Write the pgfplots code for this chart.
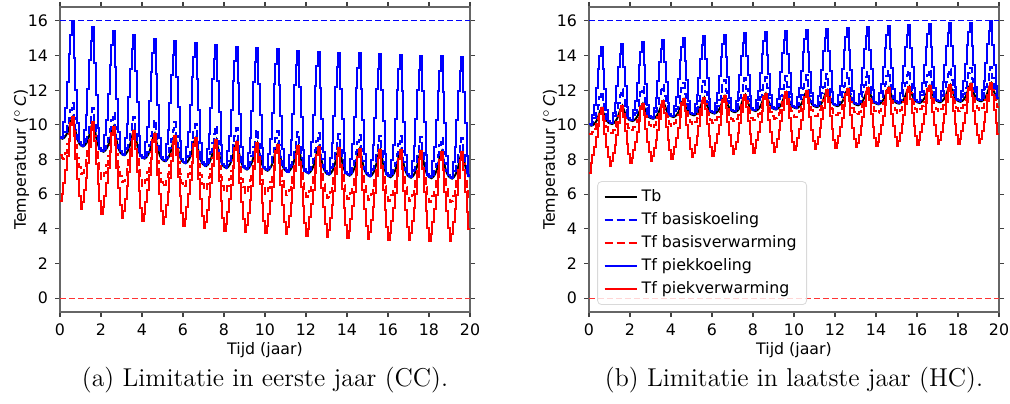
\documentclass[border=0pt]{standalone}
\usepackage{pgfplots}
\pgfplotsset{compat=1.18}
\usepackage{pgfplotstable}
\usepackage{fontspec}
\newfontfamily\dejavu{DejaVu Sans}

% ---------------- LEFT PANEL (CC) ----------------
\pgfplotstableread[row sep=\\,header=false]{
9.24\\9.20\\9.26\\9.39\\9.58\\9.89\\10.26\\10.45\\9.94\\9.43\\9.09\\8.89\\
8.79\\8.75\\8.82\\8.96\\9.17\\9.52\\9.94\\10.15\\9.64\\9.13\\8.79\\8.59\\
8.49\\8.45\\8.52\\8.67\\8.89\\9.25\\9.68\\9.90\\9.41\\8.91\\8.58\\8.38\\
8.29\\8.25\\8.32\\8.46\\8.68\\9.03\\9.46\\9.67\\9.18\\8.70\\8.37\\8.18\\
8.09\\8.05\\8.12\\8.26\\8.48\\8.84\\9.27\\9.48\\9.01\\8.53\\8.22\\8.03\\
7.94\\7.90\\7.97\\8.12\\8.34\\8.70\\9.13\\9.35\\8.88\\8.41\\8.09\\7.91\\
7.82\\7.78\\7.85\\8.00\\8.22\\8.58\\9.01\\9.23\\8.75\\8.26\\7.94\\7.75\\
7.67\\7.62\\7.70\\7.85\\8.07\\8.45\\8.90\\9.13\\8.64\\8.15\\7.83\\7.63\\
7.55\\7.50\\7.58\\7.73\\7.95\\8.33\\8.78\\9.00\\8.53\\8.05\\7.74\\7.55\\
7.47\\7.42\\7.50\\7.65\\7.87\\8.25\\8.70\\8.93\\8.46\\7.98\\7.67\\7.48\\
7.40\\7.35\\7.43\\7.58\\7.80\\8.18\\8.63\\8.85\\8.38\\7.91\\7.59\\7.41\\
7.33\\7.28\\7.36\\7.51\\7.73\\8.11\\8.56\\8.78\\8.31\\7.83\\7.52\\7.33\\
7.25\\7.20\\7.28\\7.43\\7.66\\8.04\\8.49\\8.72\\8.24\\7.76\\7.44\\7.25\\
7.17\\7.12\\7.20\\7.35\\7.59\\7.97\\8.44\\8.67\\8.19\\7.71\\7.39\\7.20\\
7.12\\7.07\\7.15\\7.30\\7.54\\7.92\\8.39\\8.62\\8.14\\7.66\\7.34\\7.15\\
7.07\\7.02\\7.10\\7.25\\7.49\\7.87\\8.34\\8.57\\8.09\\7.62\\7.30\\7.11\\
7.03\\6.98\\7.06\\7.21\\7.45\\7.83\\8.30\\8.53\\8.06\\7.58\\7.27\\7.08\\
7.00\\6.95\\7.03\\7.18\\7.42\\7.80\\8.27\\8.50\\8.03\\7.55\\7.24\\7.05\\
6.97\\6.92\\7.00\\7.15\\7.38\\7.77\\8.23\\8.46\\7.99\\7.52\\7.21\\7.03\\
6.95\\6.90\\6.98\\7.13\\7.36\\7.74\\8.20\\8.43\\7.97\\7.50\\7.19\\7.00\\
}\LTb
\pgfplotstableread[row sep=\\,header=false]{
9.26\\9.22\\9.36\\9.59\\9.93\\10.39\\10.86\\11.25\\10.39\\9.68\\9.19\\8.92\\
8.81\\8.77\\8.92\\9.16\\9.52\\10.02\\10.54\\10.95\\10.09\\9.38\\8.89\\8.62\\
8.51\\8.47\\8.62\\8.87\\9.24\\9.75\\10.28\\10.70\\9.86\\9.16\\8.68\\8.41\\
8.31\\8.27\\8.42\\8.66\\9.03\\9.53\\10.06\\10.47\\9.63\\8.95\\8.47\\8.21\\
8.11\\8.07\\8.22\\8.46\\8.83\\9.34\\9.87\\10.28\\9.46\\8.78\\8.32\\8.06\\
7.96\\7.92\\8.07\\8.32\\8.69\\9.20\\9.73\\10.15\\9.33\\8.66\\8.19\\7.94\\
7.84\\7.80\\7.95\\8.20\\8.57\\9.08\\9.61\\10.03\\9.20\\8.51\\8.04\\7.78\\
7.69\\7.64\\7.80\\8.05\\8.42\\8.95\\9.50\\9.93\\9.09\\8.40\\7.93\\7.66\\
7.57\\7.52\\7.68\\7.93\\8.30\\8.83\\9.38\\9.80\\8.98\\8.30\\7.84\\7.58\\
7.49\\7.44\\7.60\\7.85\\8.22\\8.75\\9.30\\9.73\\8.91\\8.23\\7.77\\7.51\\
7.42\\7.37\\7.53\\7.78\\8.15\\8.68\\9.23\\9.65\\8.83\\8.16\\7.69\\7.44\\
7.35\\7.30\\7.46\\7.71\\8.08\\8.61\\9.16\\9.58\\8.76\\8.08\\7.62\\7.36\\
7.27\\7.22\\7.38\\7.63\\8.01\\8.54\\9.09\\9.52\\8.69\\8.01\\7.54\\7.28\\
7.19\\7.14\\7.30\\7.55\\7.94\\8.47\\9.04\\9.47\\8.64\\7.96\\7.49\\7.23\\
7.14\\7.09\\7.25\\7.50\\7.89\\8.42\\8.99\\9.42\\8.59\\7.91\\7.44\\7.18\\
7.09\\7.04\\7.20\\7.45\\7.84\\8.37\\8.94\\9.37\\8.54\\7.87\\7.40\\7.14\\
7.05\\7.00\\7.16\\7.41\\7.80\\8.33\\8.90\\9.33\\8.51\\7.83\\7.37\\7.11\\
7.02\\6.97\\7.13\\7.38\\7.77\\8.30\\8.87\\9.30\\8.48\\7.80\\7.34\\7.08\\
6.99\\6.94\\7.10\\7.35\\7.73\\8.27\\8.83\\9.26\\8.44\\7.77\\7.31\\7.06\\
6.97\\6.92\\7.08\\7.33\\7.71\\8.24\\8.80\\9.23\\8.42\\7.75\\7.29\\7.03\\
7.03\\
}\LBk
\pgfplotstableread[row sep=\\,header=false]{
8.24\\8.10\\8.05\\8.39\\8.88\\9.49\\10.11\\10.40\\9.64\\8.83\\8.09\\7.54\\
7.19\\7.25\\7.52\\7.96\\8.47\\9.12\\9.79\\10.10\\9.34\\8.53\\7.79\\7.24\\
6.89\\6.95\\7.22\\7.67\\8.19\\8.85\\9.53\\9.85\\9.11\\8.31\\7.58\\7.03\\
6.69\\6.75\\7.02\\7.46\\7.98\\8.63\\9.31\\9.62\\8.88\\8.10\\7.37\\6.83\\
6.49\\6.55\\6.82\\7.26\\7.78\\8.44\\9.12\\9.43\\8.71\\7.93\\7.22\\6.68\\
6.44\\6.50\\6.77\\7.19\\7.69\\8.32\\9.00\\9.30\\8.60\\7.86\\7.16\\6.66\\
6.42\\6.48\\6.75\\7.15\\7.62\\8.23\\8.89\\9.18\\8.50\\7.76\\7.09\\6.60\\
6.27\\6.32\\6.60\\7.00\\7.47\\8.10\\8.78\\9.08\\8.39\\7.65\\6.98\\6.48\\
6.15\\6.20\\6.48\\6.88\\7.35\\7.98\\8.66\\8.95\\8.28\\7.55\\6.89\\6.40\\
6.07\\6.12\\6.40\\6.80\\7.27\\7.90\\8.58\\8.88\\8.21\\7.48\\6.82\\6.33\\
6.00\\6.05\\6.33\\6.73\\7.20\\7.83\\8.51\\8.80\\8.13\\7.41\\6.74\\6.26\\
5.93\\5.98\\6.26\\6.66\\7.13\\7.76\\8.44\\8.73\\8.06\\7.33\\6.67\\6.18\\
5.85\\5.90\\6.18\\6.58\\7.06\\7.69\\8.37\\8.67\\7.99\\7.26\\6.59\\6.10\\
5.77\\5.82\\6.10\\6.50\\6.99\\7.62\\8.32\\8.62\\7.94\\7.21\\6.54\\6.05\\
5.72\\5.77\\6.05\\6.45\\6.94\\7.57\\8.27\\8.57\\7.89\\7.16\\6.49\\6.00\\
5.67\\5.72\\6.00\\6.40\\6.89\\7.52\\8.22\\8.52\\7.84\\7.12\\6.45\\5.96\\
5.63\\5.68\\5.96\\6.36\\6.85\\7.48\\8.18\\8.48\\7.81\\7.08\\6.42\\5.93\\
5.60\\5.65\\5.93\\6.33\\6.82\\7.45\\8.15\\8.45\\7.78\\7.05\\6.39\\5.90\\
5.57\\5.62\\5.90\\6.30\\6.78\\7.42\\8.11\\8.41\\7.74\\7.02\\6.36\\5.88\\
5.55\\5.60\\5.88\\6.28\\6.76\\7.39\\8.08\\8.38\\7.72\\7.00\\6.34\\5.85\\
5.85\\
}\LBv
\pgfplotstableread[row sep=\\,header=false]{
9.29\\9.25\\10.16\\10.99\\12.48\\14.09\\15.16\\15.95\\13.84\\12.03\\10.09\\8.99\\
8.84\\8.80\\9.72\\10.56\\12.07\\13.72\\14.84\\15.65\\13.54\\11.73\\9.79\\8.69\\
8.54\\8.50\\9.42\\10.27\\11.79\\13.45\\14.58\\15.40\\13.31\\11.51\\9.58\\8.48\\
8.34\\8.30\\9.22\\10.06\\11.58\\13.23\\14.36\\15.17\\13.08\\11.30\\9.37\\8.28\\
8.14\\8.10\\9.02\\9.86\\11.38\\13.04\\14.17\\14.98\\12.91\\11.13\\9.22\\8.13\\
7.99\\7.95\\8.87\\9.72\\11.24\\12.90\\14.03\\14.85\\12.78\\11.01\\9.09\\8.01\\
7.87\\7.83\\8.75\\9.60\\11.12\\12.78\\13.91\\14.73\\12.65\\10.86\\8.94\\7.85\\
7.72\\7.67\\8.60\\9.45\\10.97\\12.65\\13.80\\14.63\\12.54\\10.75\\8.83\\7.73\\
7.60\\7.55\\8.48\\9.33\\10.85\\12.53\\13.68\\14.50\\12.43\\10.65\\8.74\\7.65\\
7.52\\7.47\\8.40\\9.25\\10.77\\12.45\\13.60\\14.43\\12.36\\10.58\\8.67\\7.58\\
7.45\\7.40\\8.33\\9.18\\10.70\\12.38\\13.53\\14.35\\12.28\\10.51\\8.59\\7.51\\
7.38\\7.33\\8.26\\9.11\\10.63\\12.31\\13.46\\14.28\\12.21\\10.43\\8.52\\7.43\\
7.30\\7.25\\8.18\\9.03\\10.56\\12.24\\13.39\\14.22\\12.14\\10.36\\8.44\\7.35\\
7.22\\7.17\\8.10\\8.95\\10.49\\12.17\\13.34\\14.17\\12.09\\10.31\\8.39\\7.30\\
7.17\\7.12\\8.05\\8.90\\10.44\\12.12\\13.29\\14.12\\12.04\\10.26\\8.34\\7.25\\
7.12\\7.07\\8.00\\8.85\\10.39\\12.07\\13.24\\14.07\\11.99\\10.22\\8.30\\7.21\\
7.08\\7.03\\7.96\\8.81\\10.35\\12.03\\13.20\\14.03\\11.96\\10.18\\8.27\\7.18\\
7.05\\7.00\\7.93\\8.78\\10.32\\12.00\\13.17\\14.00\\11.93\\10.15\\8.24\\7.15\\
7.02\\6.97\\7.90\\8.75\\10.28\\11.97\\13.13\\13.96\\11.89\\10.12\\8.21\\7.13\\
7.00\\6.95\\7.88\\8.73\\10.26\\11.94\\13.10\\13.93\\11.87\\10.10\\8.19\\7.10\\
7.10\\
}\LPk
\pgfplotstableread[row sep=\\,header=false]{
5.59\\6.00\\6.66\\7.39\\8.18\\9.09\\10.01\\10.45\\9.34\\8.03\\6.89\\5.89\\
5.14\\5.55\\6.22\\6.96\\7.77\\8.72\\9.69\\10.15\\9.04\\7.73\\6.59\\5.59\\
4.84\\5.25\\5.92\\6.67\\7.49\\8.45\\9.43\\9.90\\8.81\\7.51\\6.38\\5.38\\
4.64\\5.05\\5.72\\6.46\\7.28\\8.23\\9.21\\9.67\\8.58\\7.30\\6.17\\5.18\\
4.44\\4.85\\5.52\\6.26\\7.08\\8.04\\9.02\\9.48\\8.41\\7.13\\6.02\\5.03\\
4.29\\4.70\\5.37\\6.12\\6.94\\7.90\\8.88\\9.35\\8.28\\7.01\\5.89\\4.91\\
4.17\\4.58\\5.25\\6.00\\6.82\\7.78\\8.76\\9.23\\8.15\\6.86\\5.74\\4.75\\
4.02\\4.42\\5.10\\5.85\\6.67\\7.65\\8.65\\9.13\\8.04\\6.75\\5.63\\4.63\\
3.90\\4.30\\4.98\\5.73\\6.55\\7.53\\8.53\\9.00\\7.93\\6.65\\5.54\\4.55\\
3.82\\4.22\\4.90\\5.65\\6.47\\7.45\\8.45\\8.93\\7.86\\6.58\\5.47\\4.48\\
3.75\\4.15\\4.83\\5.58\\6.40\\7.38\\8.38\\8.85\\7.78\\6.51\\5.39\\4.41\\
3.68\\4.08\\4.76\\5.51\\6.33\\7.31\\8.31\\8.78\\7.71\\6.43\\5.32\\4.33\\
3.60\\4.00\\4.68\\5.43\\6.26\\7.24\\8.24\\8.72\\7.64\\6.36\\5.24\\4.25\\
3.52\\3.92\\4.60\\5.35\\6.19\\7.17\\8.19\\8.67\\7.59\\6.31\\5.19\\4.20\\
3.47\\3.87\\4.55\\5.30\\6.14\\7.12\\8.14\\8.62\\7.54\\6.26\\5.14\\4.15\\
3.42\\3.82\\4.50\\5.25\\6.09\\7.07\\8.09\\8.57\\7.49\\6.22\\5.10\\4.11\\
3.38\\3.78\\4.46\\5.21\\6.05\\7.03\\8.05\\8.53\\7.46\\6.18\\5.07\\4.08\\
3.35\\3.75\\4.43\\5.18\\6.02\\7.00\\8.02\\8.50\\7.43\\6.15\\5.04\\4.05\\
3.32\\3.72\\4.40\\5.15\\5.98\\6.97\\7.98\\8.46\\7.39\\6.12\\5.01\\4.03\\
3.30\\3.70\\4.38\\5.13\\5.96\\6.94\\7.95\\8.43\\7.37\\6.10\\4.99\\4.00\\
4.00\\
}\LPv

% ---------------- RIGHT PANEL (HC) ----------------
\pgfplotstableread[row sep=\\,header=false]{
9.98\\9.95\\10.00\\10.10\\10.25\\10.50\\10.80\\10.95\\10.68\\10.41\\10.23\\10.12\\
10.08\\10.05\\10.10\\10.21\\10.37\\10.63\\10.94\\11.10\\10.84\\10.57\\10.40\\10.29\\
10.25\\10.22\\10.27\\10.37\\10.52\\10.77\\11.07\\11.22\\10.96\\10.70\\10.52\\10.42\\
10.38\\10.35\\10.40\\10.50\\10.65\\10.90\\11.20\\11.35\\11.08\\10.81\\10.63\\10.52\\
10.48\\10.45\\10.50\\10.60\\10.76\\11.01\\11.32\\11.47\\11.19\\10.92\\10.73\\10.62\\
10.58\\10.55\\10.60\\10.70\\10.86\\11.11\\11.42\\11.57\\11.29\\11.02\\10.83\\10.72\\
10.68\\10.65\\10.70\\10.80\\10.95\\11.20\\11.50\\11.65\\11.37\\11.10\\10.91\\10.80\\
10.76\\10.73\\10.78\\10.88\\11.03\\11.28\\11.58\\11.73\\11.45\\11.17\\10.99\\10.87\\
10.83\\10.80\\10.85\\10.95\\11.10\\11.35\\11.65\\11.80\\11.52\\11.25\\11.06\\10.95\\
10.91\\10.88\\10.93\\11.03\\11.18\\11.42\\11.72\\11.87\\11.59\\11.32\\11.13\\11.02\\
10.98\\10.95\\11.00\\11.10\\11.24\\11.49\\11.78\\11.93\\11.66\\11.38\\11.20\\11.09\\
11.05\\11.02\\11.07\\11.17\\11.31\\11.55\\11.84\\11.99\\11.72\\11.44\\11.26\\11.15\\
11.11\\11.08\\11.13\\11.23\\11.37\\11.61\\11.90\\12.05\\11.77\\11.50\\11.31\\11.20\\
11.16\\11.13\\11.18\\11.28\\11.42\\11.66\\11.95\\12.10\\11.82\\11.55\\11.36\\11.25\\
11.21\\11.18\\11.23\\11.33\\11.47\\11.71\\12.00\\12.15\\11.87\\11.59\\11.41\\11.29\\
11.25\\11.22\\11.27\\11.37\\11.51\\11.76\\12.05\\12.20\\11.92\\11.64\\11.45\\11.34\\
11.29\\11.26\\11.31\\11.41\\11.56\\11.80\\12.10\\12.25\\11.97\\11.68\\11.49\\11.38\\
11.33\\11.30\\11.35\\11.45\\11.60\\11.85\\12.15\\12.30\\12.01\\11.72\\11.52\\11.41\\
11.36\\11.33\\11.38\\11.48\\11.64\\11.89\\12.20\\12.35\\12.05\\11.76\\11.56\\11.44\\
11.39\\11.36\\11.41\\11.52\\11.67\\11.93\\12.24\\12.40\\12.10\\11.80\\11.60\\11.48\\
}\RTb
\pgfplotstableread[row sep=\\,header=false]{
10.03\\10.00\\10.15\\10.40\\10.75\\11.15\\11.60\\11.90\\11.28\\10.71\\10.35\\10.17\\
10.13\\10.10\\10.25\\10.51\\10.87\\11.28\\11.74\\12.05\\11.44\\10.87\\10.52\\10.34\\
10.30\\10.27\\10.42\\10.67\\11.02\\11.42\\11.87\\12.17\\11.56\\11.00\\10.64\\10.47\\
10.43\\10.40\\10.55\\10.80\\11.15\\11.55\\12.00\\12.30\\11.68\\11.11\\10.75\\10.57\\
10.53\\10.50\\10.65\\10.90\\11.26\\11.66\\12.12\\12.42\\11.79\\11.22\\10.85\\10.67\\
10.63\\10.60\\10.75\\11.00\\11.36\\11.76\\12.22\\12.52\\11.89\\11.32\\10.95\\10.77\\
10.73\\10.70\\10.85\\11.10\\11.45\\11.85\\12.30\\12.60\\11.97\\11.40\\11.03\\10.85\\
10.81\\10.78\\10.93\\11.18\\11.53\\11.93\\12.38\\12.68\\12.05\\11.47\\11.11\\10.92\\
10.88\\10.85\\11.00\\11.25\\11.60\\12.00\\12.45\\12.75\\12.12\\11.55\\11.18\\11.00\\
10.96\\10.93\\11.08\\11.33\\11.68\\12.07\\12.52\\12.82\\12.19\\11.62\\11.25\\11.07\\
11.03\\11.00\\11.15\\11.40\\11.74\\12.14\\12.58\\12.88\\12.26\\11.68\\11.32\\11.14\\
11.10\\11.07\\11.22\\11.47\\11.81\\12.20\\12.64\\12.94\\12.32\\11.74\\11.38\\11.20\\
11.16\\11.13\\11.28\\11.53\\11.87\\12.26\\12.70\\13.00\\12.37\\11.80\\11.43\\11.25\\
11.21\\11.18\\11.33\\11.58\\11.92\\12.31\\12.75\\13.05\\12.42\\11.85\\11.48\\11.30\\
11.26\\11.23\\11.38\\11.63\\11.97\\12.36\\12.80\\13.10\\12.47\\11.89\\11.53\\11.34\\
11.30\\11.27\\11.42\\11.67\\12.01\\12.41\\12.85\\13.15\\12.52\\11.94\\11.57\\11.39\\
11.34\\11.31\\11.46\\11.71\\12.06\\12.45\\12.90\\13.20\\12.57\\11.98\\11.61\\11.43\\
11.38\\11.35\\11.50\\11.75\\12.10\\12.50\\12.95\\13.25\\12.61\\12.02\\11.64\\11.46\\
11.41\\11.38\\11.53\\11.78\\12.14\\12.54\\13.00\\13.30\\12.65\\12.06\\11.68\\11.49\\
11.44\\11.41\\11.56\\11.82\\12.17\\12.58\\13.04\\13.35\\12.70\\12.10\\11.72\\11.53\\
11.53\\
}\RBk
\pgfplotstableread[row sep=\\,header=false]{
9.50\\9.45\\9.58\\9.78\\10.03\\10.38\\10.75\\10.93\\10.58\\10.21\\9.90\\9.67\\
9.53\\9.55\\9.68\\9.89\\10.15\\10.51\\10.89\\11.08\\10.74\\10.37\\10.07\\9.84\\
9.70\\9.72\\9.85\\10.05\\10.30\\10.65\\11.02\\11.20\\10.86\\10.50\\10.19\\9.97\\
9.83\\9.85\\9.98\\10.18\\10.43\\10.78\\11.15\\11.33\\10.98\\10.61\\10.30\\10.07\\
9.93\\9.95\\10.08\\10.28\\10.54\\10.89\\11.27\\11.45\\11.09\\10.72\\10.40\\10.17\\
10.03\\10.05\\10.18\\10.38\\10.64\\10.99\\11.37\\11.55\\11.19\\10.82\\10.50\\10.27\\
10.13\\10.15\\10.28\\10.48\\10.73\\11.08\\11.45\\11.63\\11.27\\10.90\\10.58\\10.35\\
10.21\\10.23\\10.36\\10.56\\10.81\\11.16\\11.53\\11.71\\11.35\\10.97\\10.66\\10.42\\
10.28\\10.30\\10.43\\10.63\\10.88\\11.23\\11.60\\11.78\\11.42\\11.05\\10.73\\10.50\\
10.36\\10.38\\10.51\\10.71\\10.96\\11.30\\11.67\\11.85\\11.49\\11.12\\10.80\\10.57\\
10.43\\10.45\\10.58\\10.78\\11.02\\11.37\\11.73\\11.91\\11.56\\11.18\\10.87\\10.64\\
10.50\\10.52\\10.65\\10.85\\11.09\\11.43\\11.79\\11.97\\11.62\\11.24\\10.93\\10.70\\
10.56\\10.58\\10.71\\10.91\\11.15\\11.49\\11.85\\12.03\\11.67\\11.30\\10.98\\10.75\\
10.61\\10.63\\10.76\\10.96\\11.20\\11.54\\11.90\\12.08\\11.72\\11.35\\11.03\\10.80\\
10.66\\10.68\\10.81\\11.01\\11.25\\11.59\\11.95\\12.13\\11.77\\11.39\\11.08\\10.84\\
10.70\\10.72\\10.85\\11.05\\11.29\\11.64\\12.00\\12.18\\11.82\\11.44\\11.12\\10.89\\
10.74\\10.76\\10.89\\11.09\\11.34\\11.68\\12.05\\12.23\\11.87\\11.48\\11.16\\10.93\\
10.78\\10.80\\10.93\\11.13\\11.38\\11.73\\12.10\\12.28\\11.91\\11.52\\11.19\\10.96\\
10.81\\10.83\\10.96\\11.16\\11.42\\11.77\\12.15\\12.33\\11.95\\11.56\\11.23\\10.99\\
10.84\\10.86\\10.99\\11.20\\11.45\\11.81\\12.19\\12.38\\12.00\\11.60\\11.27\\11.03\\
11.03\\
}\RBv
\pgfplotstableread[row sep=\\,header=false]{
10.03\\10.00\\10.58\\11.13\\12.12\\13.21\\13.96\\14.50\\13.20\\12.09\\10.88\\10.20\\
10.13\\10.10\\10.68\\11.24\\12.24\\13.34\\14.10\\14.65\\13.36\\12.25\\11.05\\10.37\\
10.30\\10.27\\10.85\\11.40\\12.39\\13.48\\14.23\\14.77\\13.48\\12.38\\11.17\\10.50\\
10.43\\10.40\\10.98\\11.53\\12.52\\13.61\\14.36\\14.90\\13.60\\12.49\\11.28\\10.60\\
10.53\\10.50\\11.08\\11.63\\12.63\\13.72\\14.48\\15.02\\13.71\\12.60\\11.38\\10.70\\
10.63\\10.60\\11.18\\11.73\\12.73\\13.82\\14.58\\15.12\\13.81\\12.70\\11.48\\10.80\\
10.73\\10.70\\11.28\\11.83\\12.82\\13.91\\14.66\\15.20\\13.89\\12.78\\11.56\\10.88\\
10.81\\10.78\\11.36\\11.91\\12.90\\13.99\\14.74\\15.28\\13.97\\12.85\\11.64\\10.95\\
10.88\\10.85\\11.43\\11.98\\12.97\\14.06\\14.81\\15.35\\14.04\\12.93\\11.71\\11.03\\
10.96\\10.93\\11.51\\12.06\\13.05\\14.13\\14.88\\15.42\\14.11\\13.00\\11.78\\11.10\\
11.03\\11.00\\11.58\\12.13\\13.11\\14.20\\14.94\\15.48\\14.18\\13.06\\11.85\\11.17\\
11.10\\11.07\\11.65\\12.20\\13.18\\14.26\\15.00\\15.54\\14.24\\13.12\\11.91\\11.23\\
11.16\\11.13\\11.71\\12.26\\13.24\\14.32\\15.06\\15.60\\14.29\\13.18\\11.96\\11.28\\
11.21\\11.18\\11.76\\12.31\\13.29\\14.37\\15.11\\15.65\\14.34\\13.23\\12.01\\11.33\\
11.26\\11.23\\11.81\\12.36\\13.34\\14.42\\15.16\\15.70\\14.39\\13.27\\12.06\\11.37\\
11.30\\11.27\\11.85\\12.40\\13.38\\14.47\\15.21\\15.75\\14.44\\13.32\\12.10\\11.42\\
11.34\\11.31\\11.89\\12.44\\13.43\\14.51\\15.26\\15.80\\14.49\\13.36\\12.14\\11.46\\
11.38\\11.35\\11.93\\12.48\\13.47\\14.56\\15.31\\15.85\\14.53\\13.40\\12.17\\11.49\\
11.41\\11.38\\11.96\\12.51\\13.51\\14.60\\15.36\\15.90\\14.57\\13.44\\12.21\\11.52\\
11.44\\11.41\\11.99\\12.55\\13.54\\14.64\\15.40\\16.00\\14.62\\13.48\\12.25\\11.56\\
11.56\\
}\RPk
\pgfplotstableread[row sep=\\,header=false]{
7.23\\7.80\\8.25\\8.75\\9.30\\9.95\\10.63\\10.95\\10.28\\9.46\\8.73\\8.12\\
7.63\\7.90\\8.35\\8.86\\9.42\\10.08\\10.77\\11.10\\10.44\\9.62\\8.90\\8.29\\
7.80\\8.07\\8.52\\9.02\\9.57\\10.22\\10.90\\11.22\\10.56\\9.75\\9.02\\8.42\\
7.93\\8.20\\8.65\\9.15\\9.70\\10.35\\11.03\\11.35\\10.68\\9.86\\9.13\\8.52\\
8.03\\8.30\\8.75\\9.25\\9.81\\10.46\\11.15\\11.47\\10.79\\9.97\\9.23\\8.62\\
8.13\\8.40\\8.85\\9.35\\9.91\\10.56\\11.25\\11.57\\10.89\\10.07\\9.33\\8.72\\
8.23\\8.50\\8.95\\9.45\\10.00\\10.65\\11.33\\11.65\\10.97\\10.15\\9.41\\8.80\\
8.31\\8.58\\9.03\\9.53\\10.08\\10.73\\11.41\\11.73\\11.05\\10.22\\9.49\\8.87\\
8.38\\8.65\\9.10\\9.60\\10.15\\10.80\\11.48\\11.80\\11.12\\10.30\\9.56\\8.95\\
8.46\\8.73\\9.18\\9.68\\10.23\\10.87\\11.55\\11.87\\11.19\\10.37\\9.63\\9.02\\
8.53\\8.80\\9.25\\9.75\\10.29\\10.94\\11.61\\11.93\\11.26\\10.43\\9.70\\9.09\\
8.60\\8.87\\9.32\\9.82\\10.36\\11.00\\11.67\\11.99\\11.32\\10.49\\9.76\\9.15\\
8.66\\8.93\\9.38\\9.88\\10.42\\11.06\\11.73\\12.05\\11.37\\10.55\\9.81\\9.20\\
8.71\\8.98\\9.43\\9.93\\10.47\\11.11\\11.78\\12.10\\11.42\\10.60\\9.86\\9.25\\
8.76\\9.03\\9.48\\9.98\\10.52\\11.16\\11.83\\12.15\\11.47\\10.64\\9.91\\9.29\\
8.80\\9.07\\9.52\\10.02\\10.56\\11.21\\11.88\\12.20\\11.52\\10.69\\9.95\\9.34\\
8.84\\9.11\\9.56\\10.06\\10.61\\11.25\\11.93\\12.25\\11.57\\10.73\\9.99\\9.38\\
8.88\\9.15\\9.60\\10.10\\10.65\\11.30\\11.98\\12.30\\11.61\\10.77\\10.02\\9.41\\
8.91\\9.18\\9.63\\10.13\\10.69\\11.34\\12.03\\12.35\\11.65\\10.81\\10.06\\9.44\\
8.94\\9.21\\9.66\\10.17\\10.72\\11.38\\12.07\\12.40\\11.70\\10.85\\10.10\\9.48\\
9.48\\
}\RPv

\pgfplotsset{
  panel/.style={
    scale only axis, width=205pt, height=152.5pt,
    xmin=0, xmax=240, ymin=-0.8, ymax=16.8,
    xtick={0,24,...,240}, xticklabels={0,2,4,6,8,10,12,14,16,18,20},
    ytick={0,2,...,16},
    tick align=outside, major tick length=2.5pt,
    tick style={black!75, line width=0.6pt},
    axis line style={black!60, line width=0.7pt},
    ticklabel style={font=\dejavu\fontsize{7.9}{9.5}\selectfont},
    label style={font=\dejavu\fontsize{7.9}{9.5}\selectfont},
    /pgf/number format/assume math mode=true,
    xlabel={Tijd (jaar)},
    ylabel={Temperatuur (\textsuperscript{$\circ$}\,\textit{C})},
    xlabel shift=-3.5pt,
    ylabel shift=-7.5pt,
    legend image code/.code={\draw[##1] (0pt,0pt) -- (16pt,0pt);},
  },
  stb/.style={black, line width=1pt},
  sbk/.style={blue, line width=1pt, dash pattern=on 4pt off 2pt, const plot},
  sbv/.style={red, line width=1pt, dash pattern=on 4pt off 2pt, const plot},
  spk/.style={blue, line width=1pt, const plot},
  spv/.style={red, line width=1pt, const plot},
  hl16/.style={blue, line width=0.5pt, dash pattern=on 3pt off 1.5pt, forget plot},
  hl0/.style={red!80, line width=0.5pt, dash pattern=on 3pt off 1.5pt, forget plot},
}

\begin{document}
\begin{tikzpicture}
\useasboundingbox (0,0) rectangle (505pt,201.5pt);
\begin{axis}[panel, at={(30pt,45.5pt)}, anchor=south west]
\addplot[hl16] coordinates {(0,16) (240,16)};
\addplot[hl0] coordinates {(0,0) (240,0)};
\addplot[stb] table[x expr=\coordindex+0.5, y index=0] {\LTb};
\addplot[sbk] table[x expr=\coordindex, y index=0] {\LBk};
\addplot[sbv] table[x expr=\coordindex, y index=0] {\LBv};
\addplot[spk] table[x expr=\coordindex, y index=0] {\LPk};
\addplot[spv] table[x expr=\coordindex, y index=0] {\LPv};
\end{axis}
\begin{axis}[panel, at={(294.5pt,45.5pt)}, anchor=south west,
  legend style={font=\dejavu\fontsize{7.9}{9.5}\selectfont, at={(0.02,0.023)}, anchor=south west,
    draw=black!15, rounded corners=2pt, fill=white, fill opacity=0.8, text opacity=1,
    row sep=0pt, inner xsep=3pt, inner ysep=2pt},
  legend cell align=left]
\addplot[hl16] coordinates {(0,16) (240,16)};
\addplot[hl0] coordinates {(0,0) (240,0)};
\addplot[stb] table[x expr=\coordindex+0.5, y index=0] {\RTb};
\addlegendentry{Tb}
\addplot[sbk] table[x expr=\coordindex, y index=0] {\RBk};
\addlegendentry{Tf basiskoeling}
\addplot[sbv] table[x expr=\coordindex, y index=0] {\RBv};
\addlegendentry{Tf basisverwarming}
\addplot[spk] table[x expr=\coordindex, y index=0] {\RPk};
\addlegendentry{Tf piekkoeling}
\addplot[spv] table[x expr=\coordindex, y index=0] {\RPv};
\addlegendentry{Tf piekverwarming}
\end{axis}
\node[anchor=base, font=\fontsize{12.9}{15}\selectfont] at (132.5pt,8.5pt) {(a) Limitatie in eerste jaar (CC).};
\node[anchor=base, font=\fontsize{12.9}{15}\selectfont] at (397pt,8.5pt) {(b) Limitatie in laatste jaar (HC).};
\end{tikzpicture}
\end{document}
